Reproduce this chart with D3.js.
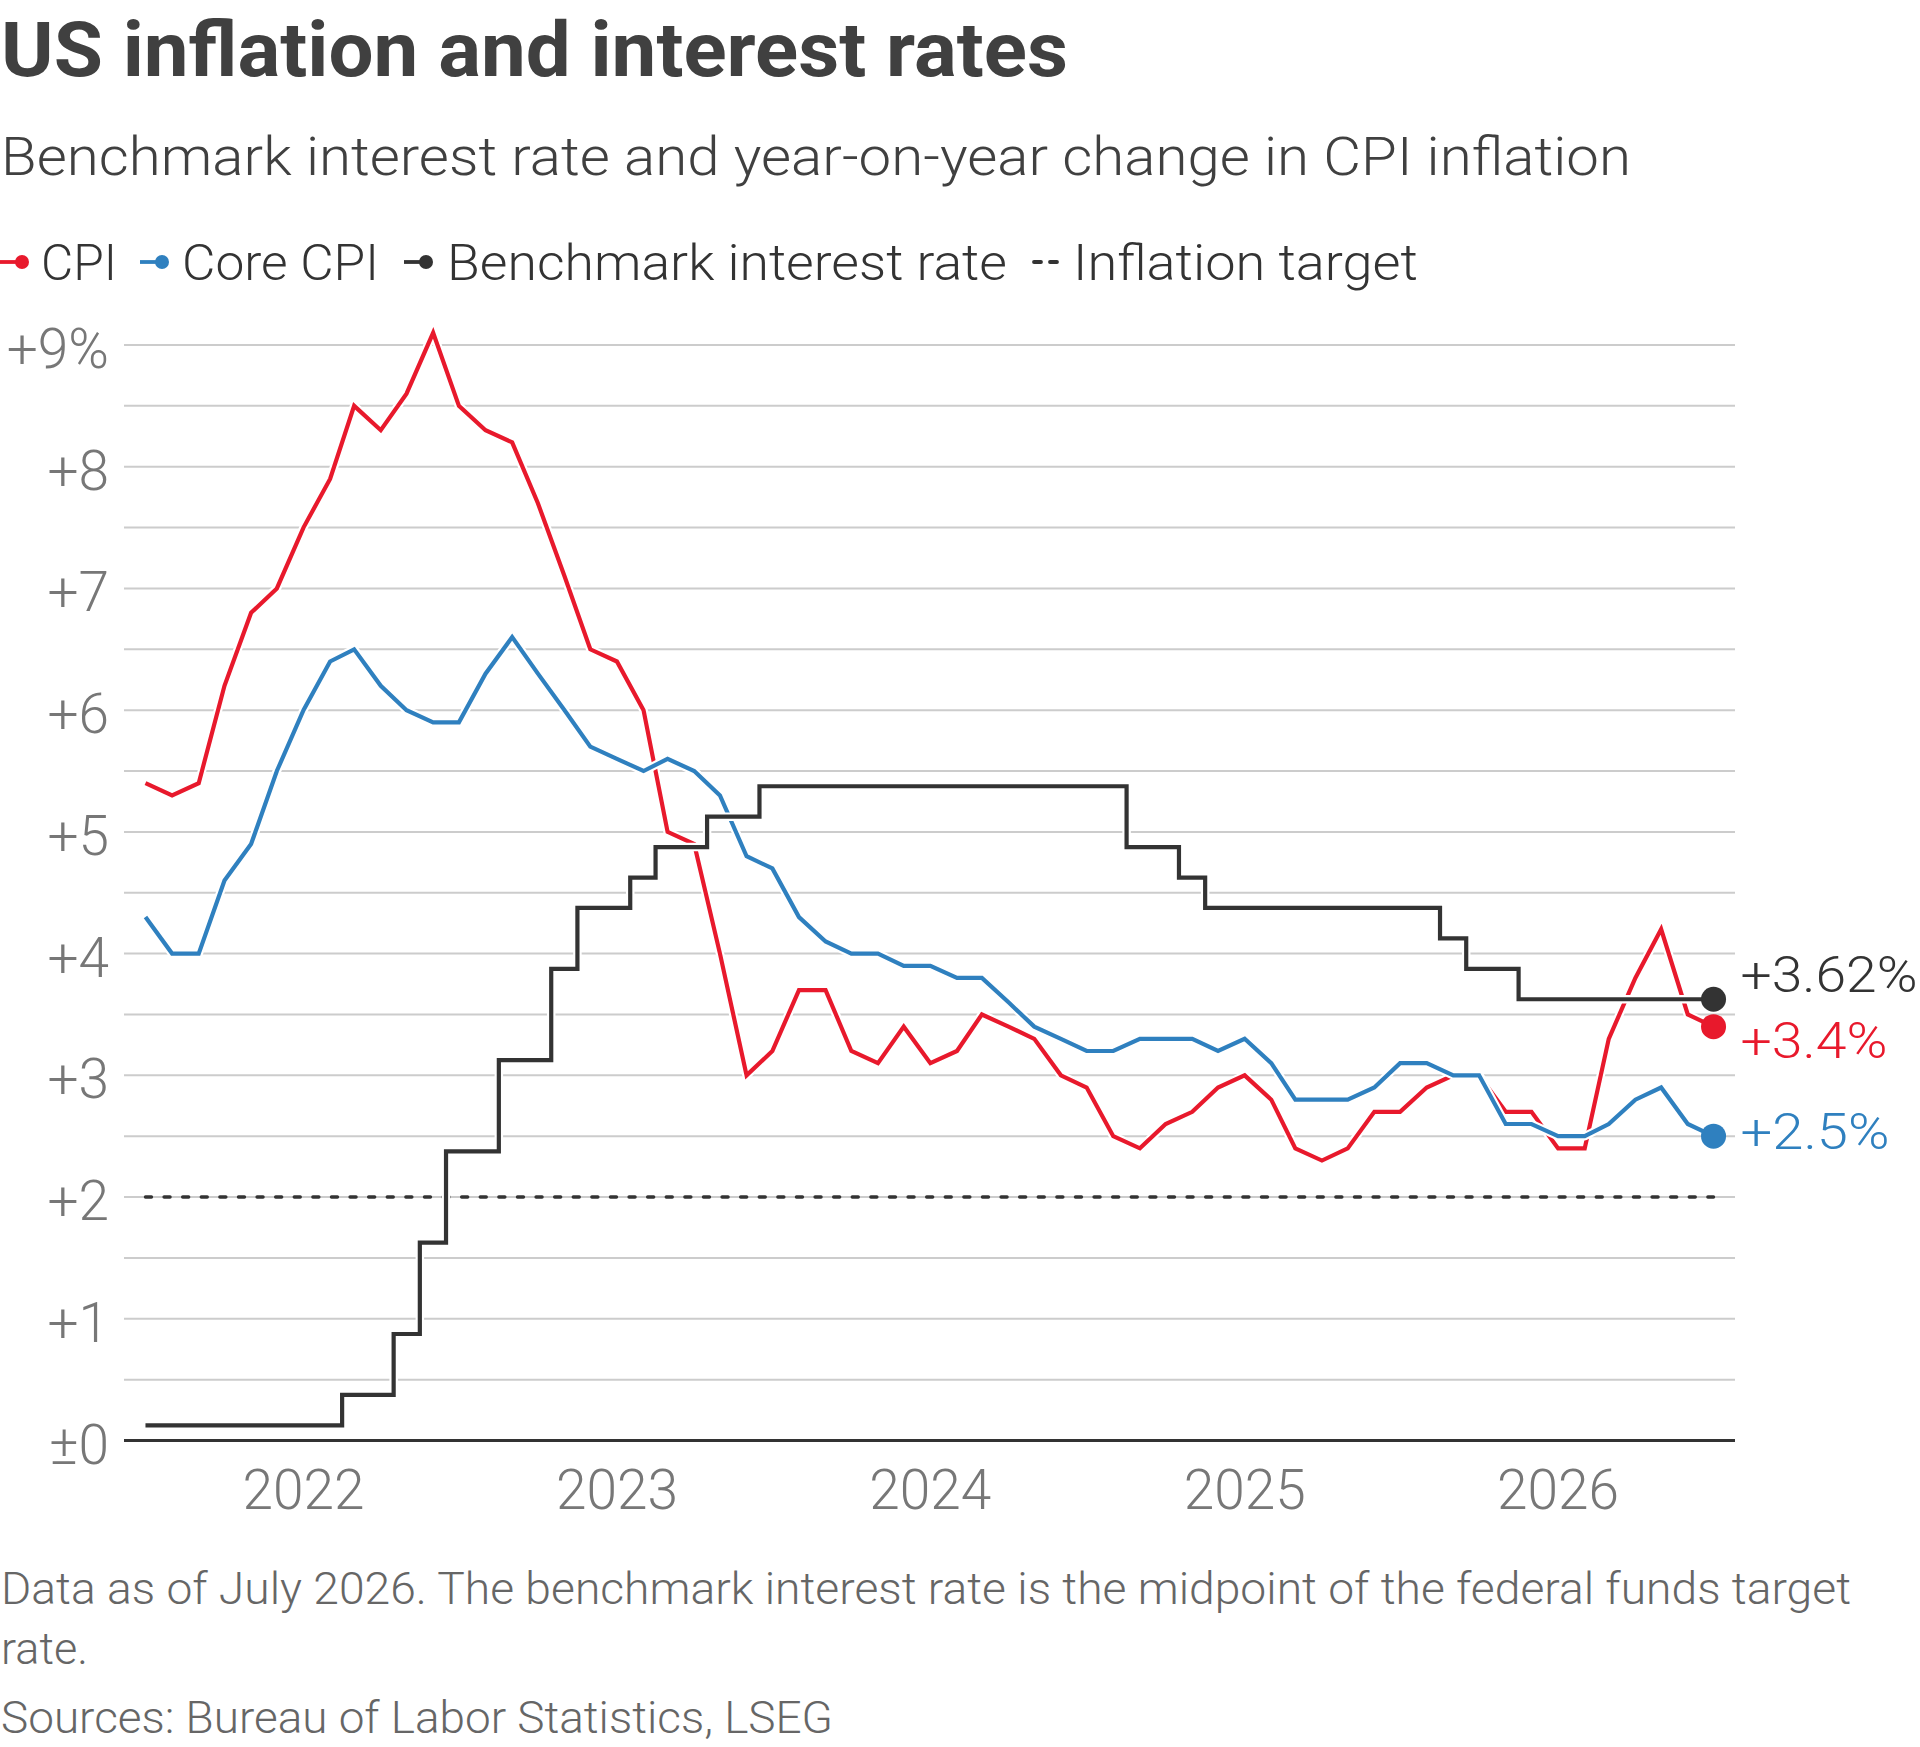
<!DOCTYPE html>
<html><head><meta charset="utf-8">
<script src="https://cdn.jsdelivr.net/npm/d3@7"></script>
<style>
html,body{margin:0;padding:0;background:#fff;}
svg{display:block;font-family:Roboto,"Noto Sans",sans-serif;}
.lt{font-weight:300;}
</style></head><body>
<svg id="chart" width="1920" height="1747"></svg>
<script>
// ---------- DATA ----------
const firstMonth = new Date(2021, 6, 1);   // July 2021
const lastMonth  = new Date(2026, 6, 1);   // July 2026
const cpi = [5.4,5.3,5.4,6.2,6.8,7.0,7.5,7.9,8.5,8.3,8.6,9.1,8.5,8.3,8.2,7.7,7.1,6.5,6.4,6.0,
             5.0,4.9,4.0,3.0,3.2,3.7,3.7,3.2,3.1,3.4,3.1,3.2,3.5,3.4,3.3,3.0,2.9,2.5,2.4,2.6,
             2.7,2.9,3.0,2.8,2.4,2.3,2.4,2.7,2.7,2.9,3.0,3.0,2.7,2.7,2.4,2.4,3.3,3.8,4.2,3.5,3.4];
const coreCpi = [4.3,4.0,4.0,4.6,4.9,5.5,6.0,6.4,6.5,6.2,6.0,5.9,5.9,6.3,6.6,6.3,6.0,5.7,5.6,5.5,
             5.6,5.5,5.3,4.8,4.7,4.3,4.1,4.0,4.0,3.9,3.9,3.8,3.8,3.6,3.4,3.3,3.2,3.2,3.3,3.3,
             3.3,3.2,3.3,3.1,2.8,2.8,2.8,2.9,3.1,3.1,3.0,3.0,2.6,2.6,2.5,2.5,2.6,2.8,2.9,2.6,2.5];
const fedRate = [0.125,0.125,0.125,0.125,0.125,0.125,0.125,0.125,0.375,0.375,
             0.875,1.625,2.375,2.375,3.125,3.125,3.875,4.375,4.375,4.625,
             4.875,4.875,5.125,5.125,5.375,5.375,5.375,5.375,5.375,5.375,
             5.375,5.375,5.375,5.375,5.375,5.375,5.375,5.375,4.875,4.875,
             4.625,4.375,4.375,4.375,4.375,4.375,4.375,4.375,4.375,4.375,
             4.125,3.875,3.875,3.625,3.625,3.625,3.625,3.625,3.625,3.625,3.625];
const inflationTarget = 2;
const yGridValues = [0,0.5,1,1.5,2,2.5,3,3.5,4,4.5,5,5.5,6,6.5,7,7.5,8,8.5,9];
const yTickValues = [0,1,2,3,4,5,6,7,8,9];
const yTickLabels = ["±0","+1","+2","+3","+4","+5","+6","+7","+8","+9%"];
const xTickYears = [2022,2023,2024,2025,2026];
const seriesNames = ["CPI","Core CPI","Benchmark interest rate","Inflation target"];
const endLabels = ["+3.4%","+2.5%","+3.62%"];

// ---------- STYLE ----------
const RED = "#e8192c", BLUE = "#2f80bf", BLACK = "#333333";
const TEXT = "#404040", GRAY = "#777777";

const months = d3.timeMonth.range(firstMonth, d3.timeMonth.offset(lastMonth, 1));
const svg = d3.select("#chart");

const x = d3.scaleTime()
  .domain([d3.timeDay.offset(firstMonth, -25), d3.timeDay.offset(lastMonth, 25)])
  .range([124, 1735]);
const y = d3.scaleLinear().domain([0, 9]).range([1440.5, 345]);

// Title / subtitle
svg.append("text").attr("x", 1).attr("y", 76).attr("font-size", 76).attr("font-weight", 700)
  .attr("fill", TEXT).attr("textLength", 1067).attr("lengthAdjust", "spacingAndGlyphs")
  .text("US inflation and interest rates");
svg.append("text").attr("class", "lt").attr("x", 1).attr("y", 175).attr("font-size", 53)
  .attr("fill", TEXT).attr("textLength", 1630).attr("lengthAdjust", "spacingAndGlyphs")
  .text("Benchmark interest rate and year-on-year change in CPI inflation");

// Legend
const legendY = 262, legendBase = 280;
const legendItems = [
  {name: seriesNames[0], color: RED, mx: 0, tx: 41, w: 76, type: "dot"},
  {name: seriesNames[1], color: BLUE, mx: 140, tx: 182, w: 197, type: "dot"},
  {name: seriesNames[2], color: BLACK, mx: 404, tx: 447, w: 560, type: "dot"},
  {name: seriesNames[3], color: BLACK, mx: 1032, tx: 1073, w: 345, type: "dash"}
];
const lg = svg.append("g");
legendItems.forEach(it => {
  if (it.type === "dot") {
    lg.append("line").attr("x1", it.mx).attr("x2", it.mx + 20).attr("y1", legendY).attr("y2", legendY)
      .attr("stroke", it.color).attr("stroke-width", 3.8);
    lg.append("circle").attr("cx", it.mx + 22).attr("cy", legendY).attr("r", 7).attr("fill", it.color);
  } else {
    lg.append("line").attr("x1", it.mx + 2).attr("x2", it.mx + 28).attr("y1", legendY).attr("y2", legendY)
      .attr("stroke", it.color).attr("stroke-width", 3.8).attr("stroke-linecap", "round")
      .attr("stroke-dasharray", "7 9");
  }
  lg.append("text").attr("class", "lt").attr("x", it.tx).attr("y", legendBase).attr("font-size", 50).attr("fill", "#333")
    .attr("textLength", it.w).attr("lengthAdjust", "spacingAndGlyphs").text(it.name);
});

// Gridlines
const grid = svg.append("g");
grid.selectAll("line").data(yGridValues.filter(v => v > 0)).join("line")
  .attr("x1", 124).attr("x2", 1735)
  .attr("y1", d => y(d)).attr("y2", d => y(d))
  .attr("stroke", "#cccccc").attr("stroke-width", 2);

// Y axis labels
svg.append("g").selectAll("text").data(yTickValues).join("text")
  .attr("class", "lt")
  .attr("x", 109).attr("y", d => y(d) + 23).attr("text-anchor", "end")
  .attr("font-size", 55).attr("fill", GRAY)
  .text((d, i) => yTickLabels[i]);

// X axis labels
svg.append("g").selectAll("text").data(xTickYears).join("text")
  .attr("class", "lt")
  .attr("x", d => x(new Date(d, 0, 1))).attr("y", 1509).attr("text-anchor", "middle")
  .attr("font-size", 55).attr("fill", GRAY).text(d => d);

// Inflation target dashed line
svg.append("line")
  .attr("x1", x(firstMonth)).attr("x2", x(lastMonth))
  .attr("y1", y(inflationTarget)).attr("y2", y(inflationTarget))
  .attr("stroke", BLACK).attr("stroke-width", 3.4).attr("stroke-linecap", "round")
  .attr("stroke-dasharray", "6 12.6");

// Zero baseline
svg.append("line").attr("x1", 124).attr("x2", 1735).attr("y1", y(0)).attr("y2", y(0))
  .attr("stroke", "#333").attr("stroke-width", 3);

// Series
const lineLin = d3.line().x((d, i) => x(months[i])).y(d => y(d));
const lineStep = d3.line().x((d, i) => x(months[i])).y(d => y(d)).curve(d3.curveStep);
const series = [
  {values: cpi, color: RED, gen: lineLin},
  {values: coreCpi, color: BLUE, gen: lineLin},
  {values: fedRate, color: BLACK, gen: lineStep}
];
const lines = svg.append("g");
series.forEach(s => {
  lines.append("path").attr("d", s.gen(s.values)).attr("fill", "none")
    .attr("stroke", "#fff").attr("stroke-width", 8.5).attr("stroke-linejoin", "round");
  lines.append("path").attr("d", s.gen(s.values)).attr("fill", "none")
    .attr("stroke", s.color).attr("stroke-width", 4.2).attr("stroke-linejoin", "miter");
});

// End dots
const lastX = x(lastMonth);
series.forEach(s => {
  lines.append("circle").attr("cx", lastX).attr("cy", y(s.values[s.values.length - 1]))
    .attr("r", 12.5).attr("fill", s.color);
});

// End labels with collision avoidance
const labWidths = {"+3.4%": 147, "+2.5%": 149, "+3.62%": 177};
const labs = series.map((s, i) => ({text: endLabels[i], color: s.color, cy: y(s.values[s.values.length - 1])}));
labs.sort((a, b) => a.cy - b.cy);
const minGap = 66;
for (let iter = 0; iter < 20; iter++) {
  for (let i = 1; i < labs.length; i++) {
    const gap = labs[i].cy - labs[i - 1].cy;
    if (gap < minGap) {
      const push = (minGap - gap) / 2;
      labs[i].cy += push; labs[i - 1].cy -= push;
    }
  }
}
labs.forEach(l => {
  svg.append("text").attr("class", "lt").attr("x", lastX + 27).attr("y", l.cy + 12.5)
    .attr("font-size", 50).attr("fill", l.color)
    .attr("textLength", labWidths[l.text]).attr("lengthAdjust", "spacingAndGlyphs").text(l.text);
});

// Footnotes
svg.append("text").attr("class", "lt").attr("x", 1).attr("y", 1604).attr("font-size", 45).attr("fill", "#666")
  .attr("textLength", 1850).attr("lengthAdjust", "spacingAndGlyphs")
  .text("Data as of July 2026. The benchmark interest rate is the midpoint of the federal funds target");
svg.append("text").attr("class", "lt").attr("x", 1).attr("y", 1664).attr("font-size", 45).attr("fill", "#666").text("rate.");
svg.append("text").attr("class", "lt").attr("x", 1).attr("y", 1733).attr("font-size", 45).attr("fill", "#666")
  .attr("textLength", 832).attr("lengthAdjust", "spacingAndGlyphs")
  .text("Sources: Bureau of Labor Statistics, LSEG");
</script>
</body></html>
